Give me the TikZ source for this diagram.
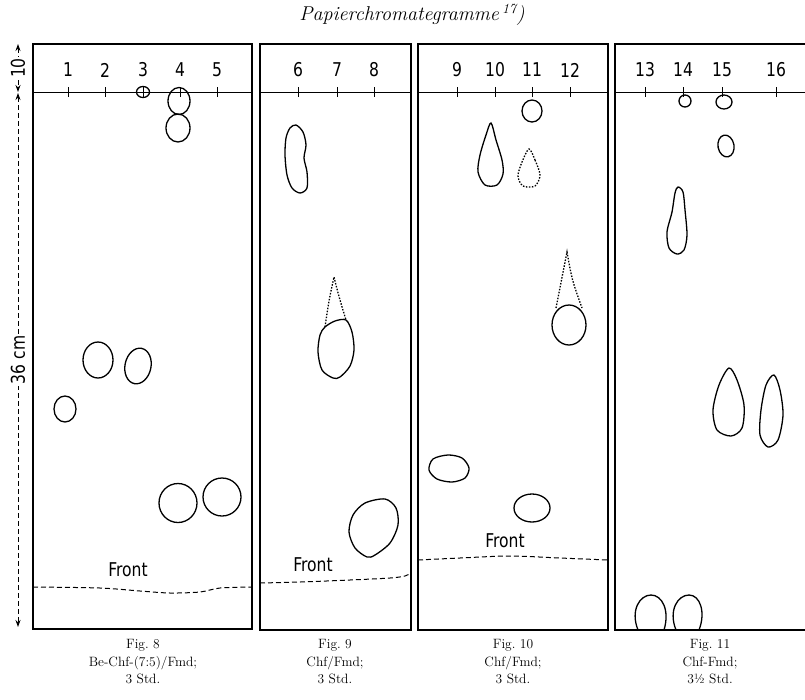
\documentclass[tikz,border=0pt]{standalone}
\usepackage{fontspec}
\newfontfamily\dinfont{DejaVu Sans}[FakeStretch=0.82]
\usepackage{tikz}
\usetikzlibrary{arrows.meta}

\begin{document}
\begin{tikzpicture}[x=1pt,y=-1pt, panel/.style={draw,line width=1.1pt}, spot/.style={draw,line width=1.3pt}, tail/.style={draw,dash pattern=on 1.5pt off 1.5pt,line width=1.3pt}, frontline/.style={draw,dash pattern=on 5pt off 3pt,line width=1pt}, nr/.style={font=\dinfont\fontsize{19}{19}\selectfont}, capt/.style={align=center,font=\fontsize{13.5}{17.5}\selectfont}, dim/.style={dash pattern=on 5pt off 3pt,line width=0.9pt,{Stealth[length=7pt,width=5pt]}-{Stealth[length=7pt,width=5pt]}}]
\useasboundingbox (0,0) rectangle (805,699);
\node[font=\itshape\fontsize{20}{22}\selectfont] (title) at (412,15) {Papierchromategramme\,\textsuperscript{17})};
% strips
\draw[panel] (33,44) rectangle (252,629);
\draw[panel] (260,44) rectangle (411,630);
\draw[panel] (418,44) rectangle (608,630);
\draw[panel] (805,44) -- (615,44) -- (615,630) -- (805,630);
\foreach \a/\b in {33/252,260/411,418/608,615/805}{\draw[line width=1pt] (\a,92) -- (\b,92);}
\foreach \x/\n in {68/1,105/2,143/3,180/4,217/5,298/6,337/7,374/8,457/9,495/10,532/11,570/12,645/13,683/14,722/15,776/16}{
  \draw[line width=1pt] (\x,87) -- (\x,97);
  \node[nr] (n\n) at (\x,70) {\n};
}
% scale on the left
\draw[dim] (18,44) -- node[fill=white,rotate=90,nr,inner sep=1pt] (d10) {10} (18,92);
\draw[dim] (18,93) -- node[fill=white,rotate=90,nr,inner sep=2pt] (d36) {36 cm} (18,627);
% Fig. 8
\draw[spot] (143,92) ellipse [x radius=6.5, y radius=5.5];
\draw[spot] (179,101) ellipse [x radius=11, y radius=13.5];
\draw[spot] (178,128) ellipse [x radius=12, y radius=14];
\draw[spot] (98,360) ellipse [x radius=15, y radius=18];
\draw[spot,rotate around={-12:(138,366)}] (138,366) ellipse [x radius=13, y radius=18];
\draw[spot] (65,409) ellipse [x radius=11, y radius=13];
\draw[spot] (178,503) ellipse [x radius=19, y radius=19.5];
\draw[spot] (222,497) ellipse [x radius=19, y radius=19];
\node[nr] (front8) at (128,570) {Front};
\draw[frontline] plot[smooth] coordinates {(33,587) (100,588) (140,591) (170,593) (200,592) (220,588) (252,587)};
% Fig. 9
\draw[spot] plot[smooth cycle] coordinates {(296,125) (303,132) (306,145) (304,158) (307,172) (307,188) (300,193) (292,188) (287,175) (285,155) (286,138) (290,128)};
\draw[tail] (325,327) .. controls (329,300) .. (334,277) .. controls (339,297) .. (346,320);
\draw[spot] plot[smooth cycle] coordinates {(335,321) (346,320) (352,332) (354,350) (350,366) (340,377) (333,378) (322,370) (318,352) (320,335) (325,327)};
\draw[spot] plot[smooth cycle] coordinates {(385,499) (396,508) (398,525) (390,543) (375,555) (367,557) (355,548) (349,532) (353,515) (365,503)};
\node[nr] (front9) at (313,565) {Front};
\draw[frontline] plot[smooth] coordinates {(260,583) (300,582) (350,580) (390,578) (405,576) (411,573)};
% Fig. 10
\draw[spot] (532,111) ellipse [x radius=10, y radius=11];
\draw[spot] plot[smooth cycle] coordinates {(491,123) (496,140) (502,160) (503,174) (497,185) (485,185) (478,172) (480,155) (486,135)};
\draw[tail] plot[smooth cycle] coordinates {(529,149) (535,160) (540,175) (535,186) (523,186) (518,176) (522,162)};
\draw[tail] (556,308) .. controls (562,280) .. (567,252) .. controls (572,280) .. (582,308);
\draw[spot] (569,325) ellipse [x radius=17, y radius=20];
\draw[spot] plot[smooth cycle] coordinates {(448,455) (462,458) (469,468) (465,478) (452,482) (437,479) (429,470) (433,459)};
\draw[spot] (532,508) ellipse [x radius=18, y radius=14];
\node[nr] (front10) at (505,541) {Front};
\draw[frontline] plot[smooth] coordinates {(418,560) (460,558) (510,556) (560,558) (608,560)};
% Fig. 11
\draw[spot] (685,101) circle [radius=6];
\draw[spot] (724,102) ellipse [x radius=8, y radius=7];
\draw[spot,rotate around={10:(726,146)}] (726,146) ellipse [x radius=8, y radius=11];
\draw[spot] plot[smooth cycle] coordinates {(678,187) (683,192) (685,210) (687,235) (684,250) (677,254) (669,248) (667,232) (672,212) (675,193)};
\draw[spot] plot[smooth cycle] coordinates {(729,368) (737,380) (744,405) (742,428) (731,436) (717,430) (713,410) (719,385)};
\draw[spot] plot[smooth cycle] coordinates {(774,375) (780,390) (783,415) (778,440) (768,447) (760,435) (761,410) (766,385)};
\draw[spot] (638,630) .. controls (630,610) and (640,595) .. (651,595) .. controls (662,595) and (670,610) .. (664,630);
\draw[spot] (676,630) .. controls (668,610) and (678,595) .. (689,595) .. controls (700,595) and (706,612) .. (699,630);
% captions
\node[capt] (fig8) at (143,662) {Fig.~8\\Be-Chf-(7:5)/Fmd;\\3 Std.};
\node[capt] (fig9) at (335,662) {Fig.~9\\Chf/Fmd;\\3 Std.};
\node[capt] (fig10) at (513,662) {Fig.~10\\Chf/Fmd;\\3 Std.};
\node[capt] (fig11) at (710,662) {Fig.~11\\Chf-Fmd;\\3\textonehalf{} Std.};
\end{tikzpicture}
\end{document}
